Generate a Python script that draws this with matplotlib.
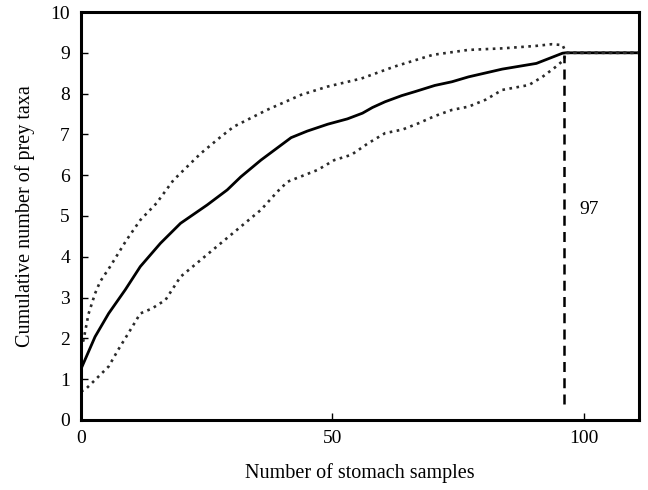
import numpy as np
import matplotlib
matplotlib.use("Agg")
import matplotlib.pyplot as plt

plt.rcParams['font.family'] = ['Liberation Serif', 'DejaVu Serif']

# mean accumulation curve
mean_x = [0, 2.8, 5.5, 8.8, 11.8, 15.8, 19.8, 25.1, 29.1, 31.8, 35.8, 41.8, 45, 49.1,
          53, 56, 58, 60.5, 63.8, 66.5, 70.4, 73.8, 77.1, 83.8, 90.6, 93.1, 95.8, 96.5, 111]
mean_y = [1.25, 2.04, 2.61, 3.19, 3.76, 4.33, 4.82, 5.27, 5.64, 5.96, 6.37, 6.92, 7.08, 7.25,
          7.38, 7.52, 7.66, 7.8, 7.95, 8.05, 8.2, 8.29, 8.41, 8.6, 8.74, 8.86, 8.99, 9.0, 9.0]

# upper confidence bound
up_x = [0, 0.5, 1.5, 2.8, 3.8, 5.8, 9, 11.8, 15, 18.4, 21.8, 23.8, 27.8, 30.4, 37, 43.8,
        49, 55.8, 62.3, 66, 70, 77, 84, 90.6, 93.6, 95.8, 96.5, 111]
up_y = [1.75, 1.96, 2.6, 3.1, 3.39, 3.76, 4.4, 4.9, 5.31, 5.88, 6.29, 6.53, 6.94, 7.19, 7.6, 7.97,
        8.17, 8.37, 8.66, 8.8, 8.95, 9.07, 9.11, 9.17, 9.21, 9.19, 9.0, 9.0]

# lower confidence bound
low_x = [0, 0.8, 2.8, 5.5, 7.4, 9.4, 11.8, 14.1, 16.8, 19.8, 23.8, 27.8, 31.8, 35.8, 39.1,
         41.1, 47.1, 50.4, 53.8, 57.1, 60.5, 64, 67.1, 70.4, 73.8, 77.1, 80.5, 83.8, 89.1,
         91.8, 94.5, 96, 96.5, 111]
low_y = [0.7, 0.74, 0.98, 1.31, 1.72, 2.12, 2.61, 2.73, 2.94, 3.51, 3.92, 4.33, 4.74, 5.15, 5.6,
         5.84, 6.13, 6.37, 6.5, 6.78, 7.03, 7.12, 7.27, 7.45, 7.6, 7.68, 7.85, 8.09, 8.21,
         8.41, 8.66, 8.82, 9.0, 9.0]

n_saturate = 97
vline_x = 96
vline_y = [0.4, 8.95]

fig = plt.figure(figsize=(6.48, 4.9), dpi=100)
ax = fig.add_axes([0.125, 0.143, 0.861, 0.8325])

ax.plot(mean_x, mean_y, color='black', lw=2.0, solid_joinstyle='round')
ax.plot(up_x, up_y, color='#2a2a2a', lw=1.9, linestyle=(0, (1, 1.7)))
ax.plot(low_x, low_y, color='#2a2a2a', lw=1.9, linestyle=(0, (1, 1.7)))
ax.plot([vline_x, vline_x], vline_y, color='black', lw=1.8, linestyle=(0, (4, 2.5)))
ax.text(101, 5.15, str(n_saturate), fontsize=14, ha='center', va='center')

ax.set_xlim(0, 111)
ax.set_ylim(0, 10)
ax.set_xticks([0, 50, 100])
ax.set_yticks(range(0, 11))
ax.tick_params(direction='in', length=5, width=1, labelsize=14)
ax.tick_params(axis='y', pad=8)
ax.tick_params(axis='x', pad=7)
for s in ax.spines.values():
    s.set_linewidth(2.2)

ax.set_xlabel('Number of stomach samples', fontsize=14.5, labelpad=12)
ax.set_ylabel('Cumulative number of prey taxa', fontsize=14.5, labelpad=11)

fig.savefig('out.png', dpi=100)
